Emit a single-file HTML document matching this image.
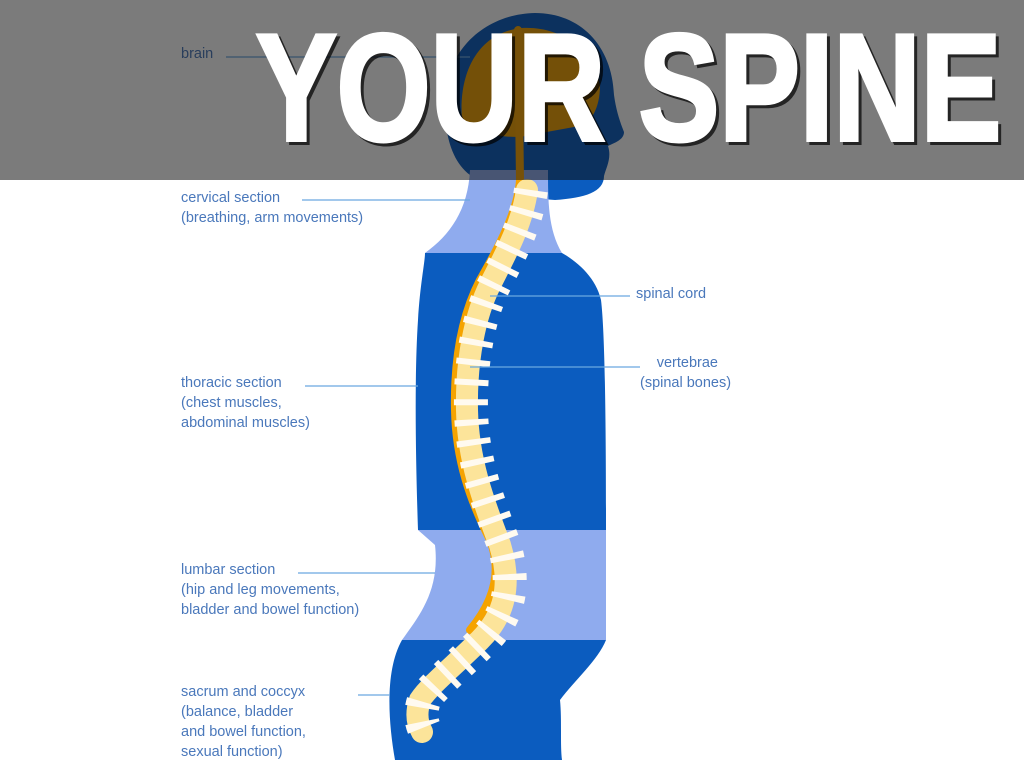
<!DOCTYPE html>
<html><head><style>
body{margin:0;width:1024px;height:768px;overflow:hidden;background:#fff}
svg{display:block}
text{font-family:"Liberation Sans",sans-serif}
.l{font-size:14.5px;fill:#4a78bb}
</style></head><body>
<svg width="1024" height="768" viewBox="0 0 1024 768">
<path d="M470 175 C450 160 444 130 445 100 C446 50 485 14 535 13 C580 13 612 45 614 95 C616 110 620 122 624 132 C624 140 614 143 608 146 C612 158 606 168 604 176 C604 192 585 198 555 200 L490 195 Z" fill="#0b5cbf"/>
<path d="M470 170 L548 170 C548 200 548 230 562 253 L425 253 C450 235 468 210 470 170 Z" fill="#8fabee"/>
<path d="M425 253 L562 253 C578 262 596 278 601 300 C606 340 606 480 606 530 L418 530 C416 470 414 380 418 320 C420 285 425 262 425 253 Z" fill="#0b5cbf"/>
<path d="M418 530 L606 530 L606 640 L402 640 C420 615 440 590 435 545 Z" fill="#8fabee"/>
<path d="M402 640 L606 640 C598 660 575 680 560 700 C562 720 560 745 562 760 L395 760 C388 720 385 670 402 640 Z" fill="#0b5cbf"/>
<path d="M462 120 C458 70 480 32 522 28 C562 26 592 50 600 85 C600 110 590 120 585 125 L530 135 C520 138 490 140 462 120 Z" fill="#f0a000"/>
<path d="M518 30 L520 180 C518 210 500 245 480 280 C462 315 454 360 455 410 C456 460 470 500 490 540 C502 570 495 600 470 630" fill="none" stroke="#f5a300" stroke-width="8" stroke-linecap="round"/>
<path d="M527 190 C522 225 505 255 490 285 C475 315 466 360 467 410 C468 460 483 500 500 545 C512 585 505 615 480 640 C455 665 430 685 420 700 C415 715 418 725 422 732" fill="none" stroke="#fce49a" stroke-width="22" stroke-linecap="round"/>
<path d="M527 190 C522 225 505 255 490 285 C475 315 466 360 467 410 C468 460 483 500 500 545 C512 585 505 615 480 640 C455 665 430 685 420 700 C415 715 418 725 422 732" fill="none" stroke="#fffaf0" stroke-width="34" stroke-dasharray="6 14" transform="translate(4,0)"/>
<g stroke="#6aa8e0" stroke-width="1.3">
<line x1="226" y1="57" x2="470" y2="57"/>
<line x1="302" y1="200" x2="470" y2="200"/>
<line x1="305" y1="386" x2="418" y2="386"/>
<line x1="298" y1="573" x2="435" y2="573"/>
<line x1="358" y1="695" x2="390" y2="695"/>
<line x1="490" y1="296" x2="630" y2="296"/>
<line x1="470" y1="367" x2="640" y2="367"/>
</g>
<g class="l">
<text x="181" y="58" class="l">brain</text>
<text x="181" y="202" class="l">cervical section</text>
<text x="181" y="222" class="l">(breathing, arm movements)</text>
<text x="181" y="387" class="l">thoracic section</text>
<text x="181" y="407" class="l">(chest muscles,</text>
<text x="181" y="427" class="l">abdominal muscles)</text>
<text x="181" y="574" class="l">lumbar section</text>
<text x="181" y="594" class="l">(hip and leg movements,</text>
<text x="181" y="614" class="l">bladder and bowel function)</text>
<text x="181" y="696" class="l">sacrum and coccyx</text>
<text x="181" y="716" class="l">(balance, bladder</text>
<text x="181" y="736" class="l">and bowel function,</text>
<text x="181" y="756" class="l">sexual function)</text>
<text x="636" y="298" class="l">spinal cord</text>
<text x="718" y="367" class="l" text-anchor="end">vertebrae</text>
<text x="640" y="387" class="l">(spinal bones)</text>
</g>
<rect x="0" y="0" width="1024" height="180" fill="rgba(14,14,14,0.55)"/>
<text x="0" y="0" transform="translate(259,143) scale(0.795,1)" font-size="152" font-weight="bold" fill="#000" opacity="0.7" stroke="#000" stroke-width="4">YOUR SPINE</text>
<text x="0" y="0" transform="translate(256,140) scale(0.795,1)" font-size="152" font-weight="bold" fill="#fff" stroke="#fff" stroke-width="4">YOUR SPINE</text>
</svg>
</body></html>
